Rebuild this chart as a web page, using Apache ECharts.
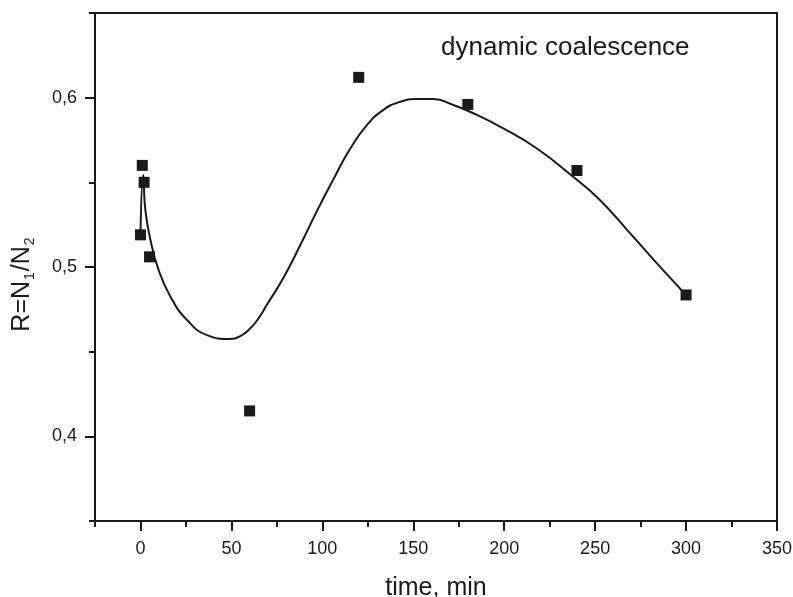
<!DOCTYPE html>
<html>
<head>
<meta charset="utf-8">
<script src="https://cdn.jsdelivr.net/npm/echarts@6/dist/echarts.min.js"></script>
<style>
  html, body { margin: 0; padding: 0; background: #fff; }
  #chart { width: 793px; height: 597px; }
</style>
</head>
<body>
<div id="chart"></div>
<script>
// Measured points: time (min) and ratio R = N1/N2
const timeMin = [0, 1, 2, 5, 60, 120, 180, 240, 300];
const ratioR  = [0.519, 0.560, 0.550, 0.506, 0.415, 0.612, 0.596, 0.557, 0.4835];

// Fitted curve, sampled along its path
const curveTime = [0, 1.5, 2.7, 5.5, 10, 16.5, 25.6, 36.6, 48.9, 54.9, 60.4, 64.8, 69.6, 78.7, 87.9, 97, 106.2, 115.3, 124.5, 133.6, 142.8, 152, 161, 172, 181.2, 199.5, 217.8, 237.9, 252.6, 270.9, 285.6, 300];
const curveR    = [0.519, 0.5543, 0.5336, 0.5159, 0.4982, 0.4825, 0.4687, 0.4598, 0.4575, 0.4592, 0.4638, 0.4695, 0.4778, 0.4938, 0.513, 0.533, 0.552, 0.5698, 0.5838, 0.5928, 0.5976, 0.5992, 0.5992, 0.5957, 0.5917, 0.5819, 0.5701, 0.5533, 0.5396, 0.5179, 0.5002, 0.4835];

// Axis ticks
const xMajorTicks = [0, 50, 100, 150, 200, 250, 300, 350];
const xMinorTicks = [-25, 25, 75, 125, 175, 225, 275, 325];
const yMajorTicks = [0.4, 0.5, 0.6];
const yMinorTicks = [0.35, 0.45, 0.55, 0.65];

const ink = '#1a1a1a';
const fontFamily = '"Liberation Sans", Arial, Helvetica, sans-serif';

const chart = echarts.init(document.getElementById('chart'), null, { renderer: 'canvas' });

const xBase = { type: 'value', min: -25, max: 350, position: 'bottom', splitLine: { show: false } };
const yBase = { type: 'value', min: 0.35, max: 0.65, position: 'left', splitLine: { show: false } };

chart.setOption({
  animation: false,
  backgroundColor: '#fff',
  grid: {
    left: 95, right: 16, top: 13, bottom: 76,
    containLabel: false,
    outerBoundsMode: 'none',
    show: true, borderColor: ink, borderWidth: 2, backgroundColor: 'transparent'
  },
  xAxis: [
    Object.assign({}, xBase, {
      axisLine: { show: true, onZero: false, lineStyle: { color: ink, width: 2 } },
      axisTick: { show: true, inside: false, length: 10, customValues: xMajorTicks, lineStyle: { color: ink, width: 2 } },
      axisLabel: { show: true, customValues: xMajorTicks, margin: 19, color: ink, fontSize: 18, fontFamily: fontFamily },
      name: 'time, min',
      nameLocation: 'middle',
      nameGap: 55,
      nameTextStyle: { color: ink, fontSize: 25, fontFamily: fontFamily }
    }),
    Object.assign({}, xBase, {
      axisLine: { show: false, onZero: false },
      axisTick: { show: true, inside: false, length: 6, customValues: xMinorTicks, lineStyle: { color: ink, width: 2 } },
      axisLabel: { show: false }
    })
  ],
  yAxis: [
    Object.assign({}, yBase, {
      axisLine: { show: true, onZero: false, lineStyle: { color: ink, width: 2 } },
      axisTick: { show: true, inside: false, length: 10, customValues: yMajorTicks, lineStyle: { color: ink, width: 2 } },
      axisLabel: {
        show: true, customValues: yMajorTicks, margin: 18, color: ink, fontSize: 18, fontFamily: fontFamily,
        formatter: v => v.toFixed(1).replace('.', ',')
      }
    }),
    Object.assign({}, yBase, {
      axisLine: { show: false, onZero: false },
      axisTick: { show: true, inside: false, length: 6, customValues: yMinorTicks, lineStyle: { color: ink, width: 2 } },
      axisLabel: { show: false }
    })
  ],
  graphic: [
    {
      type: 'text',
      left: 441,
      top: 35,
      style: { text: 'dynamic coalescence', fill: ink, font: '26px ' + fontFamily }
    },
    {
      type: 'text',
      x: 22,
      y: 284,
      rotation: Math.PI / 2,
      style: {
        text: '{a|R=N}{s|1}{a|/N}{s|2}',
        align: 'center',
        verticalAlign: 'middle',
        fill: ink,
        rich: {
          a: { fontSize: 25, fontFamily: fontFamily, fill: ink, lineHeight: 30 },
          s: { fontSize: 14, fontFamily: fontFamily, fill: ink, lineHeight: 30, verticalAlign: 'bottom', padding: [14, 1, 0, 1] }
        }
      }
    }
  ],
  series: [
    {
      type: 'line',
      xAxisIndex: 0, yAxisIndex: 0,
      data: curveTime.map((t, i) => [t, curveR[i]]),
      smooth: 0.5,
      showSymbol: false,
      lineStyle: { color: ink, width: 2 },
      z: 2
    },
    {
      type: 'scatter',
      xAxisIndex: 0, yAxisIndex: 0,
      data: timeMin.map((t, i) => [t, ratioR[i]]),
      symbol: 'rect',
      symbolSize: 11,
      itemStyle: { color: ink, opacity: 1 },
      z: 3
    }
  ]
});
</script>
</body>
</html>
